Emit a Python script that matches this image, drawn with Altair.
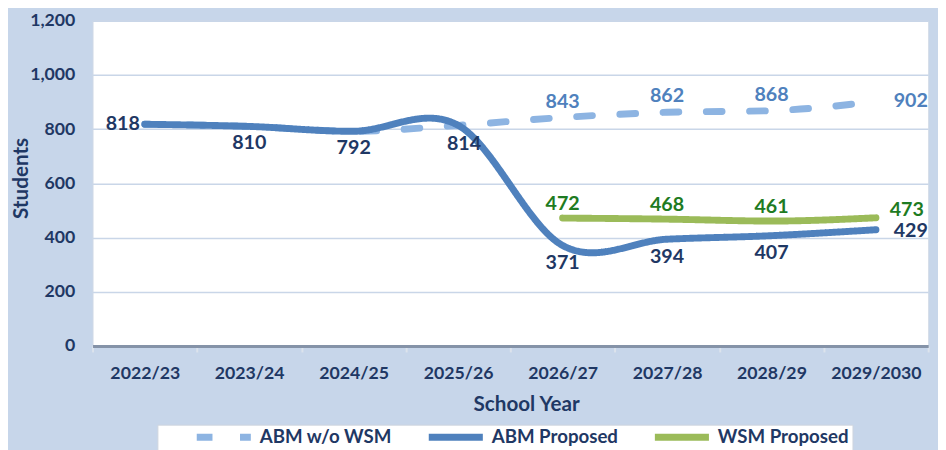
import altair as alt
import pandas as pd

years = ["2022/23", "2023/24", "2024/25", "2025/26", "2026/27", "2027/28", "2028/29", "2029/2030"]
abm_without_wsm = [818, 810, 792, 814, 843, 862, 868, 902]
abm_proposed = [818, 810, 792, 814, 371, 394, 407, 429]
wsm_proposed = [None, None, None, None, 472, 468, 461, 473]

series_names = ["ABM w/o WSM", "ABM Proposed", "WSM Proposed"]
series_colors = ["#8DB4E2", "#4F81BD", "#9BBB59"]
label_colors = ["#4F81BD", "#1F3864", "#1E7B22"]
y_ticks = [0, 200, 400, 600, 800, 1000, 1200]

rows = []
for name, vals in zip(series_names, [abm_without_wsm, abm_proposed, wsm_proposed]):
    for yr, v in zip(years, vals):
        if v is not None:
            rows.append({"year": yr, "series": name, "students": v})
df = pd.DataFrame(rows)

NAVY = "#1F3864"
FONT = "Lato"

x = alt.X(
    "year:N", sort=years, title="School Year",
    scale=alt.Scale(type="band", domain=years, paddingInner=0, paddingOuter=0),
    axis=alt.Axis(labelAngle=0, labelFont=FONT, labelFontSize=18, labelFontWeight="bold",
                  labelColor=NAVY, labelPadding=13, tickBand="extent", ticks=True, tickSize=6,
                  tickWidth=2, tickColor="#DCE3EC", domainColor="#8593A8", domainWidth=3,
                  grid=False, titleFont=FONT, titleFontSize=21, titleFontWeight="bold",
                  titleColor=NAVY, titlePadding=12, titleX=441),
)
y = alt.Y(
    "students:Q", title="Students",
    scale=alt.Scale(domain=[0, 1200], nice=False),
    axis=alt.Axis(values=y_ticks, format=",.0f", labelFont=FONT, labelFontSize=18,
                  labelFontWeight="bold", labelColor=NAVY, labelPadding=18, ticks=False,
                  domain=False, gridColor="#C9D6E8", gridWidth=1.5, titleFont=FONT,
                  titleFontSize=21, titleFontWeight="bold", titleColor=NAVY,
                  titleAngle=270, titleX=-72, titleY=160, titleAlign="center",
                  titleBaseline="middle"),
)
legend = alt.Legend(
    title=None, orient="none", legendX=66, legendY=411, direction="horizontal",
    symbolType="M-5.5,0H5.5", symbolSize=100, symbolStrokeWidth=7, symbolOffset=55,
    labelFont=FONT, labelFontSize=19, labelFontWeight="bold", labelColor=NAVY,
    labelOffset=27, columnPadding=0, fillColor="white", padding=3,
    strokeColor="#D0D6DE",
)
color = alt.Color("series:N", scale=alt.Scale(domain=series_names, range=series_colors), legend=legend)
dash = alt.StrokeDash("series:N", scale=alt.Scale(domain=series_names, range=[[16, 28], [1, 0], [1, 0]]), legend=legend)


def line_layer(name, interp):
    return alt.Chart(df).transform_filter(
        alt.FieldEqualPredicate(field="series", equal=name)
    ).mark_line(interpolate=interp, strokeWidth=7, strokeCap="round").encode(
        x=x, y=y, color=color, strokeDash=dash
    )


def label_layer(name, sel_years, col, align, dx, dy):
    return alt.Chart(df).transform_filter(
        alt.FieldEqualPredicate(field="series", equal=name)
    ).transform_filter(
        alt.FieldOneOfPredicate(field="year", oneOf=sel_years)
    ).mark_text(align=align, baseline="middle", dx=dx, dy=dy, font=FONT, fontSize=20,
                fontWeight="bold", color=col).encode(x=x, y=y, text="students:Q")


layers = [
    line_layer("ABM w/o WSM", "monotone"),
    line_layer("WSM Proposed", "monotone"),
    line_layer("ABM Proposed", "cardinal"),
    label_layer("ABM Proposed", years[:1], label_colors[1], "right", -5, 0),
    label_layer("ABM Proposed", years[1:3], label_colors[1], "center", 0, 17),
    label_layer("ABM Proposed", years[3:4], label_colors[1], "center", 6, 19),
    label_layer("ABM Proposed", years[4:-1], label_colors[1], "center", 0, 18),
    label_layer("ABM Proposed", years[-1:], label_colors[1], "left", 18, 1),
    label_layer("ABM w/o WSM", years[4:-1], label_colors[0], "center", 0, -16),
    label_layer("ABM w/o WSM", years[-1:], label_colors[0], "left", 18, 0),
    label_layer("WSM Proposed", years[4:-1], label_colors[2], "center", 0, -14),
    label_layer("WSM Proposed", years[-1:], label_colors[2], "left", 14, -8),
]

chart = alt.layer(*layers).properties(
    width=850, height=331,
    padding={"left": 86, "top": 9, "right": 10, "bottom": 110},
    autosize=alt.AutoSizeParams(type="none"),
    background="#C7D6EA",
).configure_view(fill="white", stroke="#D0D9E6", strokeWidth=1)

chart.save("out.html", embed_options={"renderer": "svg", "actions": False})
